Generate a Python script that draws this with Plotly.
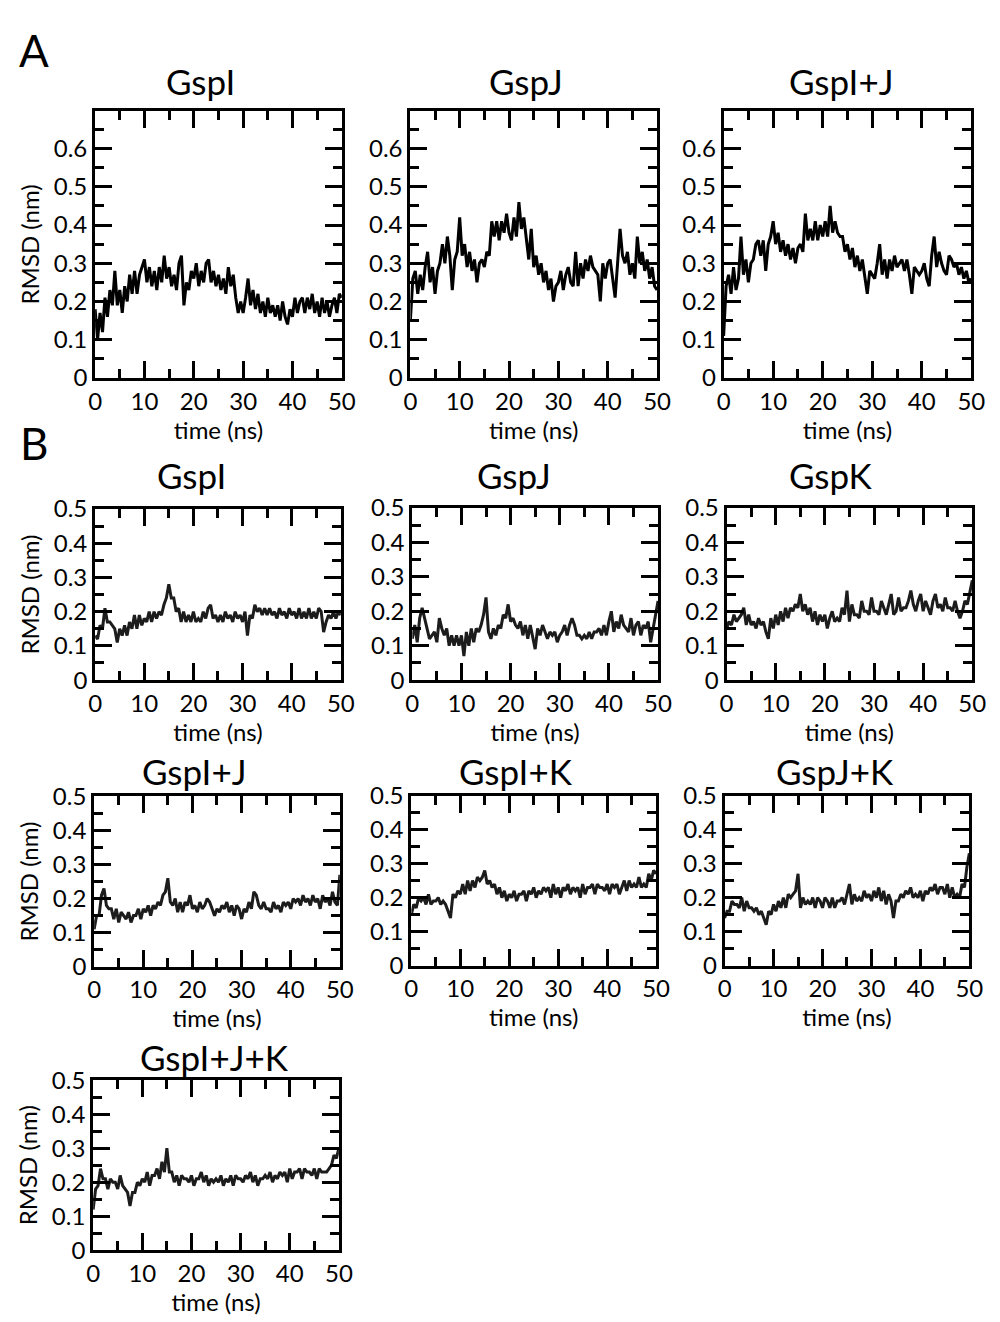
import plotly.graph_objects as go

# time axis (ns), one sample every 0.5 ns
time_ns = [0.5 * k for k in range(101)]

# A: RMSD (nm)
a_gspi = [0.18, 0.10, 0.17, 0.12, 0.21, 0.16, 0.23, 0.19, 0.28, 0.19,
          0.23, 0.17, 0.24, 0.20, 0.27, 0.22, 0.28, 0.22, 0.27, 0.29,
          0.31, 0.25, 0.29, 0.24, 0.28, 0.23, 0.29, 0.25, 0.32, 0.26,
          0.29, 0.24, 0.27, 0.23, 0.30, 0.32, 0.19, 0.25, 0.23, 0.28,
          0.26, 0.30, 0.24, 0.28, 0.25, 0.30, 0.31, 0.25, 0.28, 0.24,
          0.27, 0.23, 0.26, 0.22, 0.29, 0.24, 0.27, 0.21, 0.17, 0.20,
          0.17, 0.21, 0.26, 0.19, 0.23, 0.18, 0.22, 0.17, 0.20, 0.16,
          0.21, 0.17, 0.19, 0.16, 0.19, 0.15, 0.20, 0.16, 0.14, 0.18,
          0.16, 0.21, 0.17, 0.20, 0.21, 0.17, 0.21, 0.18, 0.22, 0.17,
          0.20, 0.16, 0.21, 0.17, 0.20, 0.16, 0.19, 0.21, 0.17, 0.22,
          0.21]
a_gspj = [0.15, 0.26, 0.28, 0.22, 0.27, 0.23, 0.29, 0.33, 0.25, 0.29,
          0.22, 0.28, 0.30, 0.35, 0.30, 0.37, 0.32, 0.23, 0.31, 0.33,
          0.42, 0.32, 0.35, 0.29, 0.33, 0.28, 0.31, 0.25, 0.30, 0.31,
          0.29, 0.33, 0.32, 0.41, 0.37, 0.41, 0.36, 0.41, 0.38, 0.43,
          0.38, 0.36, 0.42, 0.37, 0.46, 0.39, 0.42, 0.37, 0.31, 0.39,
          0.29, 0.32, 0.27, 0.30, 0.25, 0.28, 0.23, 0.26, 0.20, 0.24,
          0.25, 0.28, 0.23, 0.27, 0.29, 0.25, 0.24, 0.33, 0.24, 0.30,
          0.26, 0.31, 0.28, 0.32, 0.29, 0.28, 0.27, 0.20, 0.30, 0.26,
          0.30, 0.31, 0.26, 0.21, 0.30, 0.39, 0.32, 0.30, 0.33, 0.27,
          0.30, 0.26, 0.37, 0.30, 0.33, 0.28, 0.31, 0.26, 0.29, 0.24,
          0.23]
a_gspij = [0.11, 0.24, 0.27, 0.22, 0.29, 0.23, 0.26, 0.37, 0.27, 0.31,
           0.25, 0.30, 0.31, 0.35, 0.36, 0.32, 0.36, 0.28, 0.35, 0.37,
           0.41, 0.35, 0.38, 0.33, 0.36, 0.32, 0.35, 0.31, 0.34, 0.30,
           0.34, 0.35, 0.33, 0.43, 0.36, 0.39, 0.36, 0.41, 0.36, 0.40,
           0.37, 0.41, 0.37, 0.45, 0.38, 0.41, 0.38, 0.37, 0.37, 0.33,
           0.35, 0.31, 0.34, 0.29, 0.32, 0.28, 0.31, 0.26, 0.22, 0.28,
           0.27, 0.26, 0.30, 0.35, 0.27, 0.31, 0.26, 0.31, 0.28, 0.32,
           0.29, 0.30, 0.31, 0.28, 0.31, 0.27, 0.22, 0.29, 0.28, 0.27,
           0.28, 0.30, 0.26, 0.24, 0.32, 0.37, 0.29, 0.33, 0.30, 0.28,
           0.27, 0.32, 0.31, 0.29, 0.30, 0.27, 0.29, 0.26, 0.28, 0.25,
           0.26]

# B: RMSD (nm)
b_gspi = [0.13, 0.12, 0.16, 0.15, 0.21, 0.17, 0.17, 0.16, 0.15, 0.11,
          0.15, 0.13, 0.16, 0.13, 0.17, 0.15, 0.19, 0.15, 0.19, 0.16,
          0.18, 0.17, 0.20, 0.17, 0.20, 0.18, 0.20, 0.19, 0.22, 0.24,
          0.28, 0.24, 0.24, 0.20, 0.21, 0.17, 0.20, 0.17, 0.19, 0.17,
          0.20, 0.17, 0.18, 0.17, 0.20, 0.18, 0.21, 0.22, 0.18, 0.19,
          0.17, 0.19, 0.17, 0.20, 0.18, 0.19, 0.17, 0.20, 0.18, 0.19,
          0.17, 0.20, 0.13, 0.19, 0.18, 0.22, 0.20, 0.21, 0.19, 0.21,
          0.19, 0.21, 0.19, 0.20, 0.18, 0.21, 0.19, 0.20, 0.18, 0.21,
          0.19, 0.20, 0.18, 0.21, 0.18, 0.20, 0.18, 0.21, 0.18, 0.20,
          0.18, 0.21, 0.20, 0.14, 0.17, 0.19, 0.18, 0.20, 0.18, 0.20,
          0.19]
b_gspj = [0.12, 0.16, 0.11, 0.18, 0.21, 0.18, 0.15, 0.12, 0.13, 0.14,
          0.11, 0.18, 0.15, 0.13, 0.15, 0.10, 0.13, 0.10, 0.13, 0.10,
          0.13, 0.07, 0.14, 0.10, 0.15, 0.11, 0.15, 0.14, 0.16, 0.19,
          0.24, 0.14, 0.12, 0.15, 0.13, 0.16, 0.15, 0.19, 0.18, 0.22,
          0.17, 0.18, 0.16, 0.15, 0.17, 0.13, 0.16, 0.12, 0.16, 0.12,
          0.09, 0.15, 0.13, 0.16, 0.14, 0.12, 0.14, 0.13, 0.14, 0.11,
          0.13, 0.14, 0.16, 0.13, 0.16, 0.18, 0.16, 0.13, 0.13, 0.12,
          0.13, 0.12, 0.14, 0.12, 0.14, 0.14, 0.15, 0.13, 0.16, 0.13,
          0.17, 0.20, 0.14, 0.17, 0.15, 0.19, 0.16, 0.15, 0.14, 0.18,
          0.13, 0.16, 0.17, 0.13, 0.16, 0.15, 0.17, 0.11, 0.15, 0.18,
          0.23]
b_gspk = [0.15, 0.17, 0.16, 0.19, 0.17, 0.18, 0.19, 0.21, 0.16, 0.19,
          0.16, 0.17, 0.15, 0.18, 0.16, 0.17, 0.14, 0.12, 0.18, 0.15,
          0.19, 0.16, 0.20, 0.17, 0.21, 0.18, 0.21, 0.20, 0.22, 0.21,
          0.25, 0.20, 0.22, 0.19, 0.21, 0.17, 0.20, 0.16, 0.19, 0.17,
          0.19, 0.15, 0.18, 0.20, 0.17, 0.18, 0.17, 0.21, 0.19, 0.26,
          0.17, 0.22, 0.19, 0.19, 0.18, 0.23, 0.20, 0.20, 0.19, 0.24,
          0.20, 0.20, 0.19, 0.23, 0.21, 0.19, 0.22, 0.25, 0.19, 0.20,
          0.24, 0.20, 0.21, 0.21, 0.23, 0.26, 0.22, 0.20, 0.23, 0.25,
          0.20, 0.23, 0.21, 0.19, 0.23, 0.25, 0.21, 0.22, 0.20, 0.24,
          0.21, 0.21, 0.20, 0.23, 0.20, 0.18, 0.20, 0.23, 0.22, 0.26,
          0.29]
b_gspij = [0.11, 0.15, 0.15, 0.21, 0.23, 0.18, 0.17, 0.17, 0.14, 0.17,
           0.13, 0.16, 0.15, 0.14, 0.16, 0.13, 0.15, 0.15, 0.17, 0.14,
           0.17, 0.16, 0.18, 0.15, 0.18, 0.17, 0.19, 0.18, 0.21, 0.22,
           0.26, 0.19, 0.18, 0.20, 0.16, 0.19, 0.16, 0.19, 0.18, 0.21,
           0.17, 0.18, 0.16, 0.19, 0.17, 0.18, 0.20, 0.19, 0.17, 0.15,
           0.17, 0.16, 0.18, 0.17, 0.19, 0.16, 0.18, 0.15, 0.18, 0.17,
           0.14, 0.17, 0.16, 0.19, 0.17, 0.22, 0.21, 0.18, 0.17, 0.19,
           0.17, 0.17, 0.16, 0.19, 0.17, 0.18, 0.16, 0.19, 0.18, 0.19,
           0.17, 0.20, 0.19, 0.20, 0.18, 0.21, 0.19, 0.20, 0.18, 0.21,
           0.19, 0.20, 0.17, 0.21, 0.19, 0.20, 0.18, 0.22, 0.19, 0.18,
           0.27]
b_gspik = [0.15, 0.18, 0.17, 0.20, 0.19, 0.20, 0.18, 0.21, 0.18, 0.19,
           0.19, 0.20, 0.18, 0.19, 0.18, 0.16, 0.14, 0.21, 0.20, 0.22,
           0.21, 0.24, 0.21, 0.25, 0.22, 0.25, 0.23, 0.26, 0.25, 0.26,
           0.28, 0.24, 0.25, 0.23, 0.24, 0.21, 0.23, 0.20, 0.22, 0.19,
           0.21, 0.20, 0.22, 0.19, 0.21, 0.21, 0.22, 0.19, 0.22, 0.21,
           0.23, 0.20, 0.22, 0.21, 0.23, 0.22, 0.23, 0.20, 0.24, 0.21,
           0.23, 0.20, 0.23, 0.22, 0.24, 0.21, 0.23, 0.22, 0.23, 0.20,
           0.24, 0.21, 0.23, 0.23, 0.24, 0.21, 0.24, 0.23, 0.23, 0.22,
           0.24, 0.21, 0.24, 0.23, 0.24, 0.21, 0.23, 0.25, 0.22, 0.25,
           0.23, 0.24, 0.23, 0.26, 0.23, 0.24, 0.23, 0.27, 0.25, 0.28,
           0.27]
b_gspjk = [0.14, 0.16, 0.16, 0.19, 0.18, 0.18, 0.17, 0.20, 0.16, 0.19,
           0.17, 0.17, 0.16, 0.17, 0.15, 0.16, 0.14, 0.12, 0.16, 0.15,
           0.18, 0.16, 0.19, 0.17, 0.20, 0.17, 0.21, 0.20, 0.21, 0.22,
           0.27, 0.17, 0.20, 0.18, 0.19, 0.18, 0.20, 0.17, 0.20, 0.19,
           0.17, 0.20, 0.19, 0.17, 0.20, 0.17, 0.19, 0.19, 0.20, 0.18,
           0.21, 0.24, 0.18, 0.21, 0.19, 0.20, 0.19, 0.22, 0.20, 0.21,
           0.19, 0.22, 0.20, 0.23, 0.19, 0.22, 0.18, 0.21, 0.19, 0.14,
           0.19, 0.19, 0.21, 0.20, 0.22, 0.21, 0.23, 0.20, 0.21, 0.20,
           0.22, 0.19, 0.22, 0.21, 0.23, 0.22, 0.24, 0.21, 0.23, 0.23,
           0.21, 0.24, 0.20, 0.23, 0.20, 0.21, 0.20, 0.24, 0.23, 0.29,
           0.33]
b_gspijk = [0.12, 0.18, 0.19, 0.24, 0.21, 0.21, 0.18, 0.21, 0.20, 0.20,
            0.18, 0.22, 0.19, 0.18, 0.17, 0.13, 0.17, 0.17, 0.20, 0.19,
            0.21, 0.20, 0.23, 0.19, 0.22, 0.22, 0.24, 0.21, 0.26, 0.23,
            0.30, 0.23, 0.23, 0.20, 0.22, 0.19, 0.22, 0.21, 0.21, 0.20,
            0.22, 0.19, 0.21, 0.21, 0.23, 0.20, 0.22, 0.19, 0.21, 0.20,
            0.21, 0.20, 0.22, 0.19, 0.21, 0.20, 0.22, 0.19, 0.22, 0.21,
            0.21, 0.20, 0.22, 0.21, 0.23, 0.20, 0.22, 0.19, 0.21, 0.21,
            0.22, 0.21, 0.23, 0.20, 0.22, 0.21, 0.23, 0.22, 0.23, 0.20,
            0.24, 0.21, 0.23, 0.23, 0.24, 0.21, 0.24, 0.23, 0.23, 0.22,
            0.24, 0.21, 0.24, 0.23, 0.23, 0.23, 0.24, 0.25, 0.28, 0.27,
            0.30]

titles = ["GspI", "GspJ", "GspI+J",
          "GspI", "GspJ", "GspK",
          "GspI+J", "GspI+K", "GspJ+K",
          "GspI+J+K"]
series = [a_gspi, a_gspj, a_gspij,
          b_gspi, b_gspj, b_gspk,
          b_gspij, b_gspik, b_gspjk,
          b_gspijk]

W, H = 1000, 1322
FONT = "Lato, 'Open Sans', sans-serif"

# plot boxes in pixels: left, right, top, bottom, title x, title y
boxes = [
    (90, 342, 97, 370, 198, 66),
    (412, 664, 97, 370, 530, 66),
    (732, 985, 97, 370, 852, 66),
    (90, 341, 504, 679, 188, 469),
    (414, 665, 503, 679, 518, 469),
    (735, 986, 503, 679, 842, 469),
    (89, 340, 798, 972, 192, 772),
    (413, 663, 797, 971, 520, 772),
    (733, 983, 797, 971, 846, 772),
    (88, 339, 1088, 1262, 212, 1064),
]
left_col = {0, 3, 6, 9}

fig = go.Figure()
annotations = []
for i, (vals, title, box) in enumerate(zip(series, titles, boxes)):
    n = "" if i == 0 else str(i + 1)
    l, r, t, b, tx, ty = box
    panel_a = i < 3
    fig.add_trace(go.Scatter(
        x=time_ns, y=vals, mode="lines",
        line=dict(color="#000000" if panel_a else "#1c1c1c", width=3),
        xaxis="x" + n, yaxis="y" + n, showlegend=False, hoverinfo="skip"))
    common = dict(
        showline=True, linewidth=3, linecolor="black", mirror="allticks",
        ticks="inside", ticklen=17, tickwidth=2.5, tickcolor="black",
        showgrid=False, zeroline=False,
        tickfont=dict(family=FONT, size=24, color="black"),
    )
    fig.update_layout(**{
        "xaxis" + n: dict(
            common, domain=[l / W, r / W], anchor="y" + n,
            range=[0, 50], dtick=10, tick0=0,
            minor=dict(ticks="inside", ticklen=9, tickwidth=2.5, dtick=5,
                       tickcolor="black"),
            title=dict(text="time (ns)", standoff=0,
                       font=dict(family=FONT, size=24, color="black")),
        ),
        "yaxis" + n: dict(
            common, domain=[1 - b / H, 1 - t / H], anchor="x" + n,
            range=[0, 0.699] if panel_a else [0, 0.5], dtick=0.1, tick0=0,
            minor=dict(ticks="inside", ticklen=9, tickwidth=2.5, dtick=0.05,
                       tickcolor="black"),
            title=dict(text="RMSD (nm)" if i in left_col else "", standoff=8,
                       font=dict(family=FONT, size=24, color="black")),
        ),
    })
    annotations.append(dict(
        text=title, x=tx / W, y=1 - ty / H, xref="paper", yref="paper",
        xanchor="center", yanchor="middle", showarrow=False,
        font=dict(family=FONT, size=35, color="black")))

for label, (lx, ly) in zip(["A", "B"], [(28, 35), (28, 437)]):
    annotations.append(dict(
        text=label, x=lx / W, y=1 - ly / H, xref="paper", yref="paper",
        xanchor="center", yanchor="middle", showarrow=False,
        font=dict(family=FONT, size=44, color="black")))

fig.update_layout(
    width=W, height=H,
    margin=dict(l=0, r=0, t=0, b=0),
    paper_bgcolor="white", plot_bgcolor="white",
    annotations=annotations,
)

fig.write_html("out.html", config={"displayModeBar": False},
               post_script="document.body.style.margin='0';")
